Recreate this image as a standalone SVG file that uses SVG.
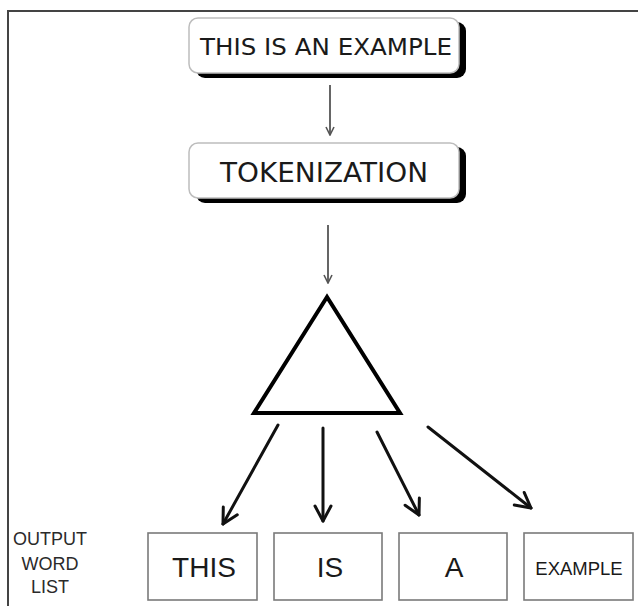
<svg xmlns="http://www.w3.org/2000/svg" width="638" height="606" viewBox="0 0 638 606">
<defs>
<style>
.shadow{fill:#000}
.card{fill:#fff;stroke:#bdbdbd;stroke-width:1.5}
.word{fill:#fff;stroke:#7a7a7a;stroke-width:1.6}
.t{font-family:"DejaVu Sans","Liberation Sans",sans-serif;fill:#1a1a1a;text-anchor:middle}
.w{font-family:"Liberation Sans",Arial,sans-serif;fill:#1a1a1a;text-anchor:middle}
.lbl{font-family:"Liberation Sans",Arial,sans-serif;fill:#2a2a2a;text-anchor:middle;font-size:18px}
.thin{stroke:#555;stroke-width:1.8;fill:none}
.thick{stroke:#111;stroke-width:3;fill:none;stroke-linecap:round}
</style>
<marker id="ah1" viewBox="0 0 10 10" refX="9" refY="5" markerWidth="10" markerHeight="10" markerUnits="userSpaceOnUse" orient="auto">
<path d="M1,1 L9,5 L1,9" fill="none" stroke="#555" stroke-width="1.6"/>
</marker>
<marker id="ah2" viewBox="0 0 20 20" refX="18" refY="10" markerWidth="20" markerHeight="20" markerUnits="userSpaceOnUse" orient="auto">
<path d="M3,2 L18,10 L3,18" fill="none" stroke="#111" stroke-width="3" stroke-linecap="round" stroke-linejoin="round"/>
</marker>
</defs>
<rect width="638" height="606" fill="#fff"/>
<path d="M8,606 V11 H638" fill="none" stroke="#444" stroke-width="2"/>

<g id="input">
<rect class="shadow" x="196" y="22" width="270" height="56" rx="9"/>
<rect class="card" x="189" y="18" width="270" height="55" rx="9"/>
<text class="t" x="326" y="55" font-size="23" textLength="252" lengthAdjust="spacingAndGlyphs">THIS IS AN EXAMPLE</text>
</g>

<g id="tokenization">
<rect class="shadow" x="196" y="147" width="270" height="56" rx="9"/>
<rect class="card" x="189" y="143" width="270" height="55" rx="9"/>
<text class="t" x="324" y="182" font-size="27" textLength="208" lengthAdjust="spacingAndGlyphs">TOKENIZATION</text>
</g>

<g id="splitter">
<polygon points="327,297 254,413 400,413" fill="#fff" stroke="#000" stroke-width="4" stroke-linejoin="miter"/>
</g>

<g id="label">
<text class="lbl" x="50" y="545">OUTPUT</text>
<text class="lbl" x="50" y="570">WORD</text>
<text class="lbl" x="50" y="593">LIST</text>
</g>

<g id="w1">
<rect class="word" x="148" y="533" width="109" height="67"/>
<text class="w" x="204" y="577" font-size="28">THIS</text>
</g>
<g id="w2">
<rect class="word" x="274" y="533" width="108" height="67"/>
<text class="w" x="330" y="577" font-size="28">IS</text>
</g>
<g id="w3">
<rect class="word" x="399" y="533" width="108" height="67"/>
<text class="w" x="454" y="577" font-size="28">A</text>
</g>
<g id="w4">
<rect class="word" x="524" y="533" width="109" height="67"/>
<text class="w" x="579" y="575" font-size="18.5">EXAMPLE</text>
</g>

<g id="connectors">
<line class="thin" x1="330" y1="85" x2="330" y2="135" marker-end="url(#ah1)"/>
<line class="thin" x1="328" y1="225" x2="328" y2="283" marker-end="url(#ah1)"/>
<line class="thick" x1="278" y1="425" x2="223" y2="524" marker-end="url(#ah2)"/>
<line class="thick" x1="323" y1="428" x2="323" y2="521" marker-end="url(#ah2)"/>
<line class="thick" x1="377" y1="432" x2="419" y2="515" marker-end="url(#ah2)"/>
<line class="thick" x1="428" y1="427" x2="531" y2="508" marker-end="url(#ah2)"/>
</g>
</svg>
